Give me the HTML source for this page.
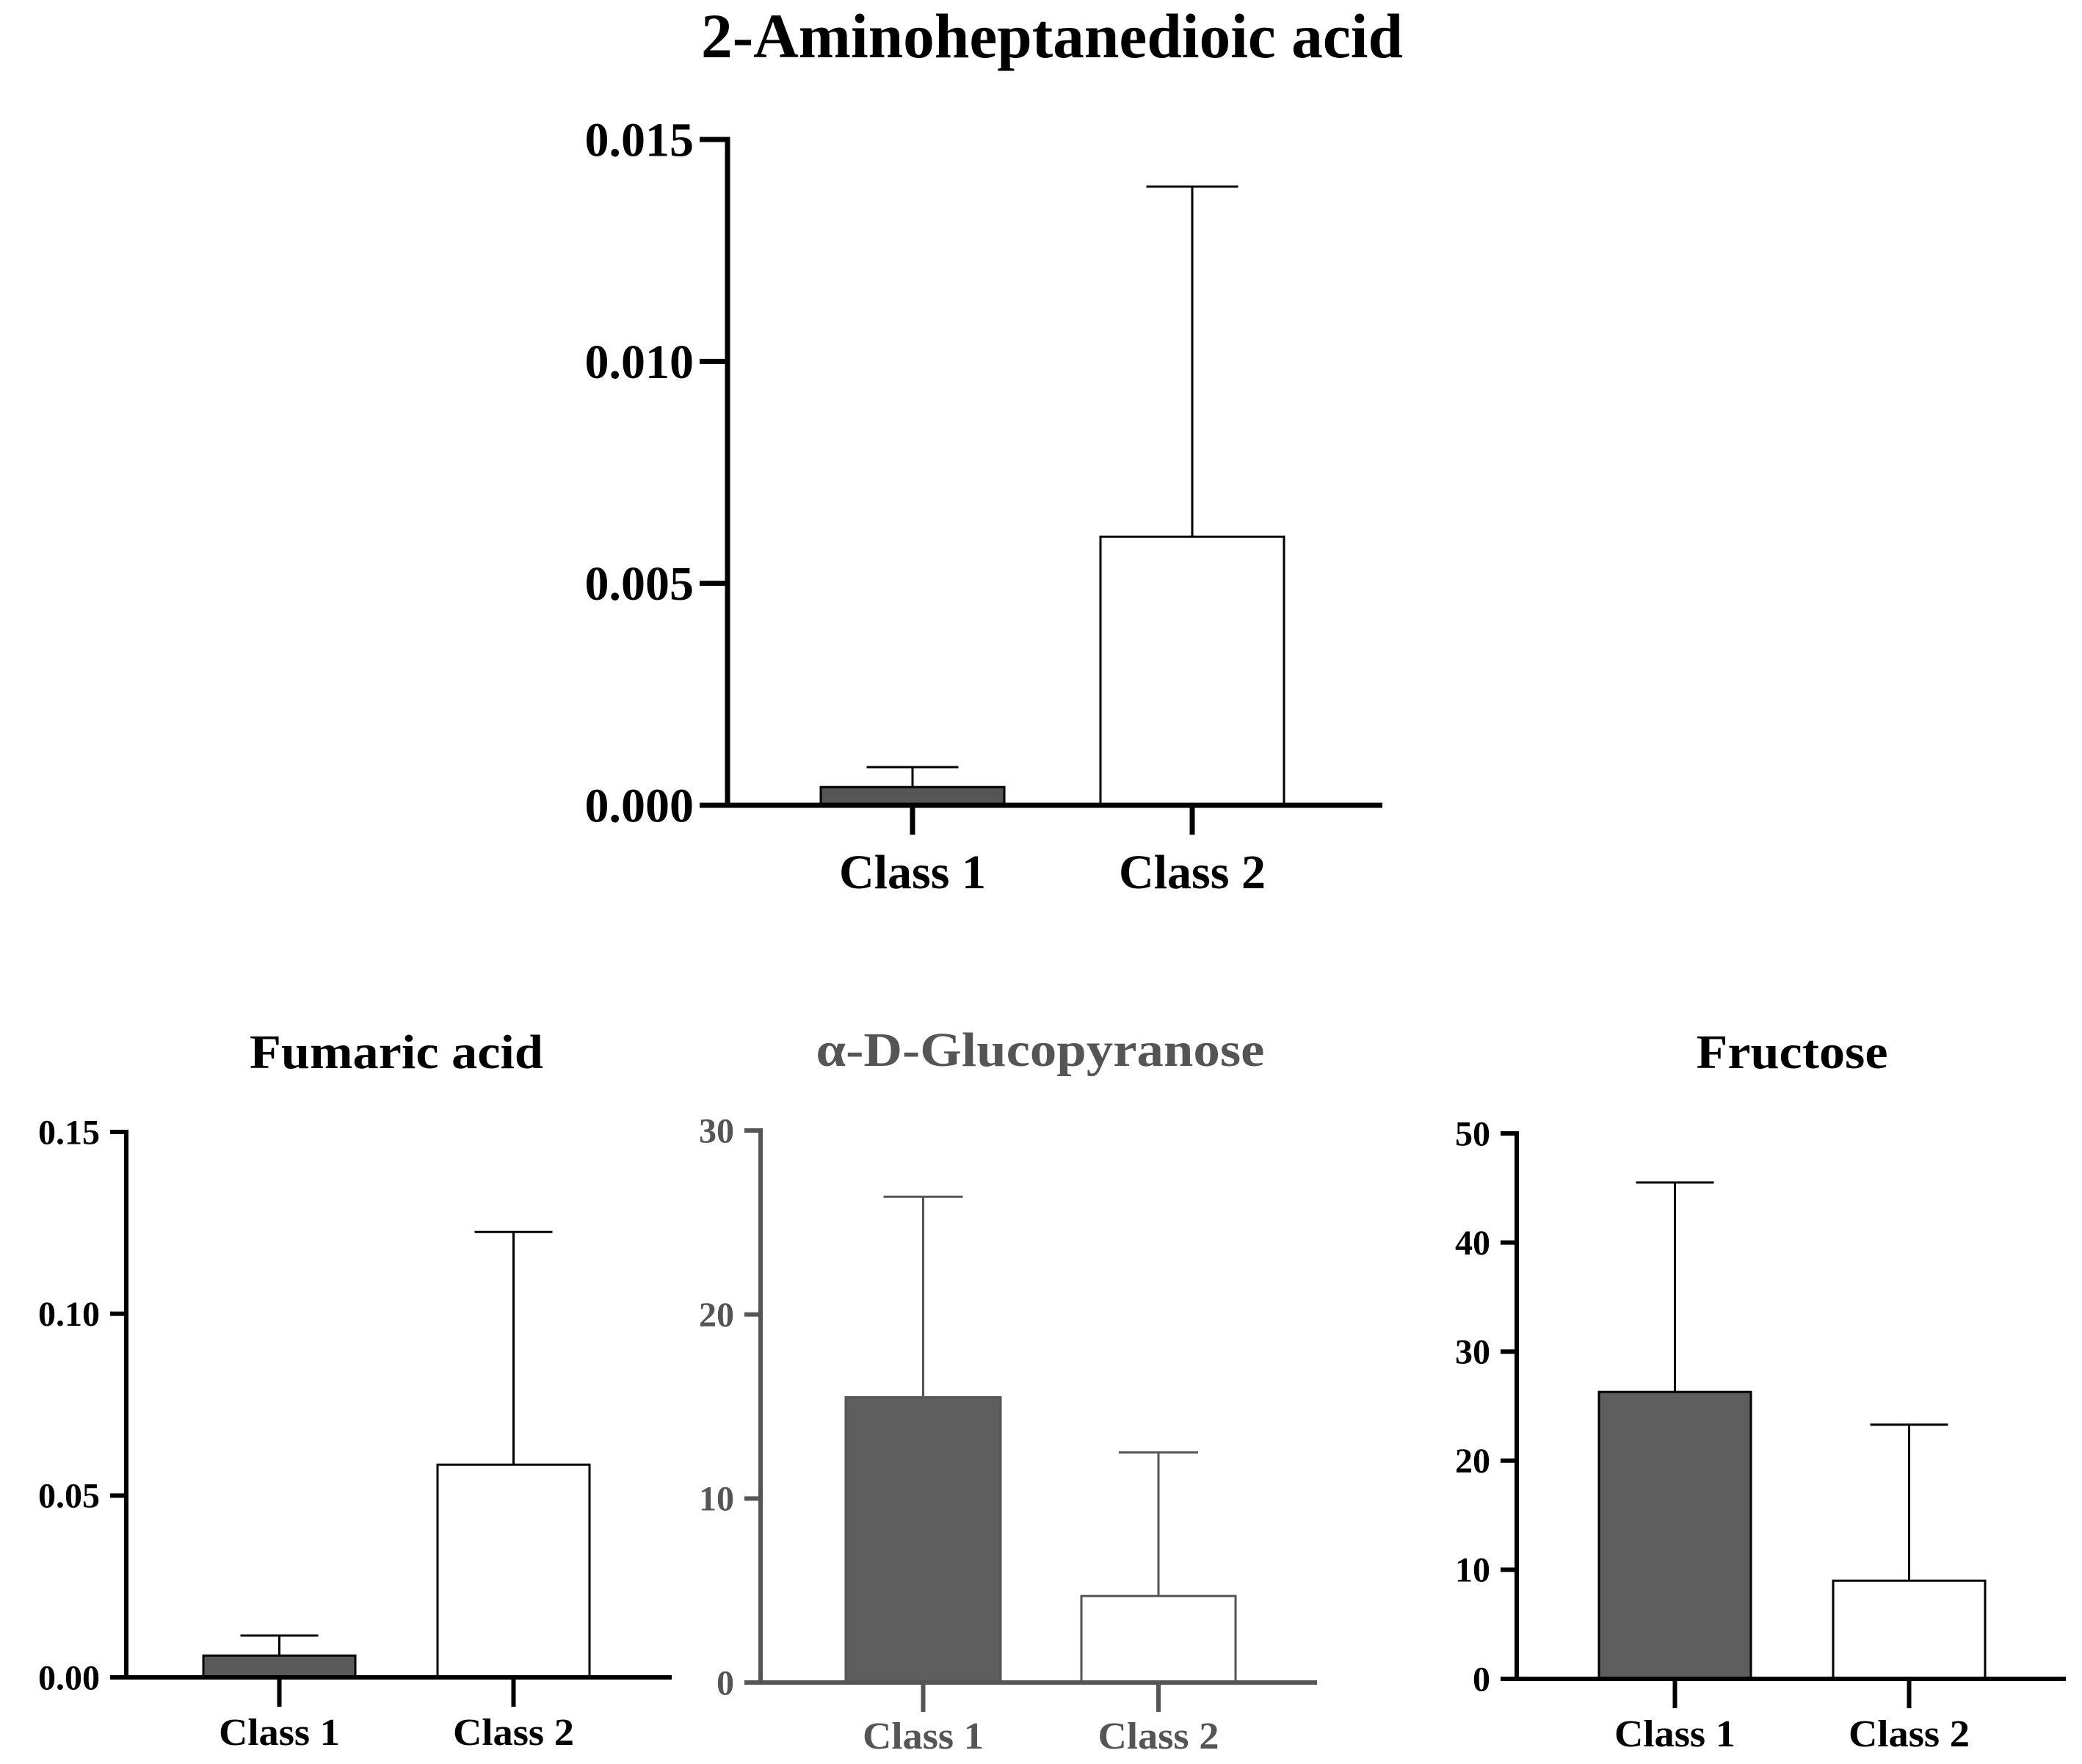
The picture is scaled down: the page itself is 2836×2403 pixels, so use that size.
<!DOCTYPE html>
<html><head><meta charset="utf-8"><style>
html,body{margin:0;padding:0;background:#fff;}
svg{display:block;}
text{font-family:"Liberation Serif",serif;font-weight:bold;}
</style></head><body>
<svg id="chart" width="2836" height="2403" viewBox="0 0 2836 2403" xmlns="http://www.w3.org/2000/svg"></svg>
<script>
const categories = ["Class 1", "Class 2"];
const titles = ["2-Aminoheptanedioic acid", "Fumaric acid", "\u03b1-D-Glucopyranose", "Fructose"];
const meansAmino = [0.00041, 0.00605];
const errorsAmino = [0.00086, 0.01394];
const ticksAmino = ["0.000", "0.005", "0.010", "0.015"];
const meansFumaric = [0.006, 0.0585];
const errorsFumaric = [0.0115, 0.1225];
const ticksFumaric = ["0.00", "0.05", "0.10", "0.15"];
const meansGluco = [15.5, 4.7];
const errorsGluco = [26.4, 12.5];
const ticksGluco = ["0", "10", "20", "30"];
const meansFructose = [26.3, 9.0];
const errorsFructose = [45.5, 23.3];
const ticksFructose = ["0", "10", "20", "30", "40", "50"];

const NS = "http://www.w3.org/2000/svg";
const svg = document.getElementById("chart");
function mk(tag, attrs, parent) {
  const e = document.createElementNS(NS, tag);
  for (const k in attrs) e.setAttribute(k, attrs[k]);
  (parent || svg).appendChild(e);
  return e;
}
const panels = [
  {key:"amino", title:titles[0], means:meansAmino, errs:errorsAmino, ticks:ticksAmino,
   ax:991, top:190, bot:1097, xend:1883, bars:[[1118,1368],[1499,1749]], cap:125,
   tx:1433, ty:78, tfs:86, tlen:956, lfs:66, cfs:66, clen:200, cy:1210, aw:7, tickLen:38, catTick:40, gap:8, color:"#000", fill:"#555"},
  {key:"fumaric", title:titles[1], means:meansFumaric, errs:errorsFumaric, ticks:ticksFumaric,
   ax:172, top:1542, bot:2285, xend:915, bars:[[277,484],[596,803]], cap:106,
   tx:540, ty:1455, tfs:66, tlen:400, lfs:48, cfs:52, clen:165, cy:2377, aw:6, tickLen:22, catTick:40, gap:14, color:"#000", fill:"#5a5a5a"},
  {key:"gluco", title:titles[2], means:meansGluco, errs:errorsGluco, ticks:ticksGluco,
   ax:1036, top:1540, bot:2292, xend:1794, bars:[[1152,1363],[1473,1683]], cap:108,
   tx:1417, ty:1452, tfs:66, tlen:611, lfs:48, cfs:52, clen:165, cy:2382, aw:6, tickLen:22, catTick:40, gap:14, color:"#555", fill:"#5e5e5e"},
  {key:"fructose", title:titles[3], means:meansFructose, errs:errorsFructose, ticks:ticksFructose,
   ax:2066, top:1544, bot:2287, xend:2814, bars:[[2178,2385],[2497,2704]], cap:106,
   tx:2441, ty:1455, tfs:66, tlen:261, lfs:48, cfs:52, clen:165, cy:2379, aw:6, tickLen:22, catTick:40, gap:14, color:"#000", fill:"#5e5e5e"}
];
panels.forEach(p => {
  const g = mk("g", {});
  
  
  const maxV = parseFloat(p.ticks[p.ticks.length-1]);
  const y = v => p.bot - (v / maxV) * (p.bot - p.top);
  const t = mk("text", {x:p.tx, y:p.ty, "text-anchor":"middle", "font-size":p.tfs, fill:p.color, textLength:p.tlen, lengthAdjust:"spacingAndGlyphs"}, g);
  
  
  t.textContent = p.title;
  p.means.forEach((m, i) => {
    const [x0, x1] = p.bars[i];
    const cx = (x0 + x1) / 2;
    const eb = mk("path", {d:`M${cx},${y(m)} V${y(p.errs[i])} M${cx-p.cap/2},${y(p.errs[i])} H${cx+p.cap/2}`, stroke:p.color, "stroke-width":3, fill:"none"}, g);
    
    
    const r = mk("rect", {x:x0, y:y(m), width:x1-x0, height:p.bot-y(m), fill:i===0?p.fill:"#fff", stroke:p.color, "stroke-width":3}, g);
    
    
    const ct = mk("line", {x1:cx, y1:p.bot, x2:cx, y2:p.bot+p.catTick, stroke:p.color, "stroke-width":p.aw}, g);
    
    
    const cl = mk("text", {x:cx, y:p.cy, "text-anchor":"middle", "font-size":p.cfs, fill:p.color, textLength:p.clen, lengthAdjust:"spacingAndGlyphs"}, g);
    
    
    cl.textContent = categories[i];
  });
  p.ticks.forEach(tk => {
    const yy = y(parseFloat(tk));
    const l = mk("line", {x1:p.ax-p.tickLen, y1:yy, x2:p.ax, y2:yy, stroke:p.color, "stroke-width":p.aw}, g);
    
    
    const tl = mk("text", {x:p.ax-p.tickLen-p.gap, y:yy+p.lfs*0.34, "text-anchor":"end", "font-size":p.lfs, fill:p.color}, g);
    
    
    tl.textContent = tk;
  });
  const ya = mk("line", {x1:p.ax, y1:p.top-p.aw/2, x2:p.ax, y2:p.bot, stroke:p.color, "stroke-width":p.aw}, g);
  
  
  const xa = mk("line", {x1:p.ax-p.tickLen, y1:p.bot, x2:p.xend, y2:p.bot, stroke:p.color, "stroke-width":p.aw}, g);
  
  
});
</script>
</body></html>
